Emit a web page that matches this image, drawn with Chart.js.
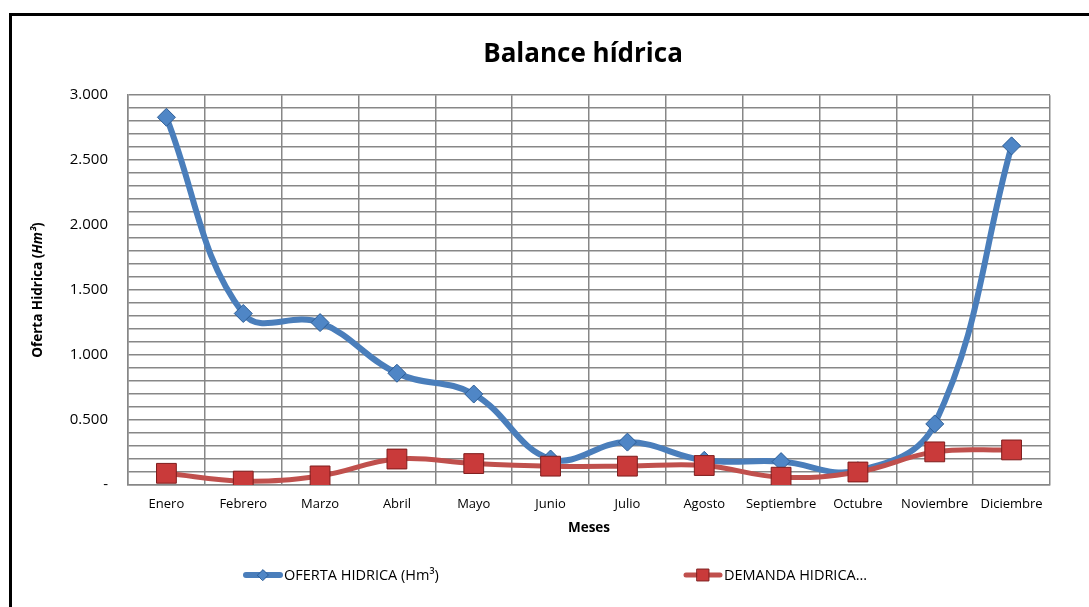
<!DOCTYPE html>
<html lang="es">
<head>
<meta charset="utf-8">
<title>Balance hídrica</title>
<script src="https://cdn.jsdelivr.net/npm/chart.js@4.4.1/dist/chart.umd.min.js"></script>
<style>
  html, body { margin: 0; padding: 0; background: #fff; overflow: hidden; }
  #marco { position: absolute; left: 9px; top: 13px; width: 1142px; height: 600px; border: 3px solid #000; background: #fff; }
  canvas { display: block; }
</style>
</head>
<body>
<div id="marco"><canvas id="graficoBalance" width="1142" height="600"></canvas></div>
<script>
const meses = ['Enero', 'Febrero', 'Marzo', 'Abril', 'Mayo', 'Junio', 'Julio', 'Agosto', 'Septiembre', 'Octubre', 'Noviembre', 'Diciembre'];
const ofertaHidrica = [2.83, 1.32, 1.25, 0.86, 0.70, 0.20, 0.33, 0.19, 0.18, 0.11, 0.47, 2.61];
const demandaHidrica = [0.09, 0.03, 0.07, 0.20, 0.165, 0.145, 0.145, 0.15, 0.06, 0.10, 0.255, 0.27];
const etiquetasY = ['-', '0.500', '1.000', '1.500', '2.000', '2.500', '3.000'];

const fuente = '"Open Sans", "Noto Sans", sans-serif';

// leyenda dibujada a mano: linea + marcador + texto
const leyenda = {
    id: 'leyenda',
    afterDraw(chart) {
        const ctx = chart.ctx;
        const y = 559;
        const xs = [231, 671];
        chart.data.datasets.forEach((ds, i) => {
            const x = xs[i];
            ctx.save();
            ctx.strokeStyle = ds.borderColor;
            ctx.lineWidth = ds.borderWidth;
            ctx.lineCap = 'round';
            ctx.beginPath();
            ctx.moveTo(x + 3, y);
            ctx.lineTo(x + 37, y);
            ctx.stroke();
            ctx.fillStyle = ds.pointBackgroundColor;
            ctx.strokeStyle = ds.pointBorderColor;
            ctx.lineWidth = 1;
            Chart.helpers.drawPoint(ctx, { pointStyle: ds.pointStyle, radius: ds.pointRadius * 0.6, borderWidth: 1 }, x + 20, y);
            ctx.fillStyle = '#000';
            ctx.font = '14.5px ' + fuente;
            ctx.textBaseline = 'middle';
            ctx.fillText(ds.label, x + 41, y + 1);
            ctx.restore();
        });
    }
};

// titulo del eje Y con "Hm³" en cursiva
const tituloY = {
    id: 'tituloY',
    afterDraw(chart) {
        const { ctx, chartArea } = chart;
        const partes = [['Oferta Hidrica (', 'bold'], ['Hm³', 'italic bold'], [')', 'bold']];
        ctx.save();
        ctx.translate(26, (chartArea.top + chartArea.bottom) / 2);
        ctx.rotate(-Math.PI / 2);
        ctx.fillStyle = '#000';
        ctx.textBaseline = 'middle';
        let total = 0;
        partes.forEach(p => {
            ctx.font = p[1] + ' 13.5px ' + fuente;
            total += ctx.measureText(p[0]).width;
        });
        let x = -total / 2;
        partes.forEach(p => {
            ctx.font = p[1] + ' 13.5px ' + fuente;
            ctx.fillText(p[0], x, 0);
            x += ctx.measureText(p[0]).width;
        });
        ctx.restore();
    }
};

const ctx = document.getElementById('graficoBalance').getContext('2d');
const grafico = new Chart(ctx, {
    type: 'line',
    data: {
        labels: meses,
        datasets: [{
            label: 'OFERTA HIDRICA (Hm³)',
            data: ofertaHidrica,
            order: 2,
            borderColor: '#4A7EBB',
            borderWidth: 6,
            tension: 0.4,
            pointStyle: 'rectRot',
            pointRadius: 9,
            pointBackgroundColor: '#4F86C6',
            pointBorderColor: '#2C5D96',
            pointBorderWidth: 1
        }, {
            label: 'DEMANDA HIDRICA...',
            data: demandaHidrica,
            order: 1,
            borderColor: '#C0504D',
            borderWidth: 5,
            tension: 0.4,
            pointStyle: 'rect',
            pointRadius: 14,
            pointBackgroundColor: '#C93A3A',
            pointBorderColor: '#7F1D1D',
            pointBorderWidth: 1
        }]
    },
    options: {
        responsive: false,
        animation: false,
        events: [],
        layout: {
            padding: { left: 0, right: 0, top: 0, bottom: 76 }
        },
        plugins: {
            legend: { display: false },
            tooltip: { enabled: false },
            title: {
                display: true,
                text: 'Balance hídrica',
                color: '#000',
                font: { size: 26, weight: 'bold', family: fuente },
                padding: { top: 23, bottom: 25 }
            }
        },
        scales: {
            x: {
                offset: true,
                grid: { color: '#878787', lineWidth: 1.5, drawTicks: false, offset: true },
                border: { color: '#878787', width: 1.5 },
                ticks: { color: '#000', padding: 11, font: { size: 13, family: fuente } },
                title: {
                    display: true,
                    text: 'Meses',
                    color: '#000',
                    font: { size: 13.5, weight: 'bold', family: fuente }
                },
                afterFit: (axis) => { axis.height = 55; }
            },
            y: {
                min: 0,
                max: 3,
                grid: { color: '#878787', lineWidth: 1.5, drawTicks: false },
                border: { color: '#878787', width: 1.5 },
                ticks: {
                    stepSize: 0.1,
                    autoSkip: false,
                    padding: 20,
                    color: '#000',
                    font: { size: 15, family: fuente },
                    callback: (v) => {
                        const k = Math.round(v / 0.5);
                        return Math.abs(v - k * 0.5) < 1e-6 ? etiquetasY[k] : '';
                    }
                },
                afterFit: (axis) => { axis.width = 116; }
            },
            // eje vacio a la derecha: deja el hueco del marco sin descentrar el titulo
            margenDerecho: {
                position: 'right',
                display: true,
                grid: { display: false },
                border: { display: false },
                ticks: { display: false },
                afterFit: (axis) => { axis.width = 104; }
            }
        }
    },
    plugins: [leyenda, tituloY]
});
</script>
</body>
</html>
